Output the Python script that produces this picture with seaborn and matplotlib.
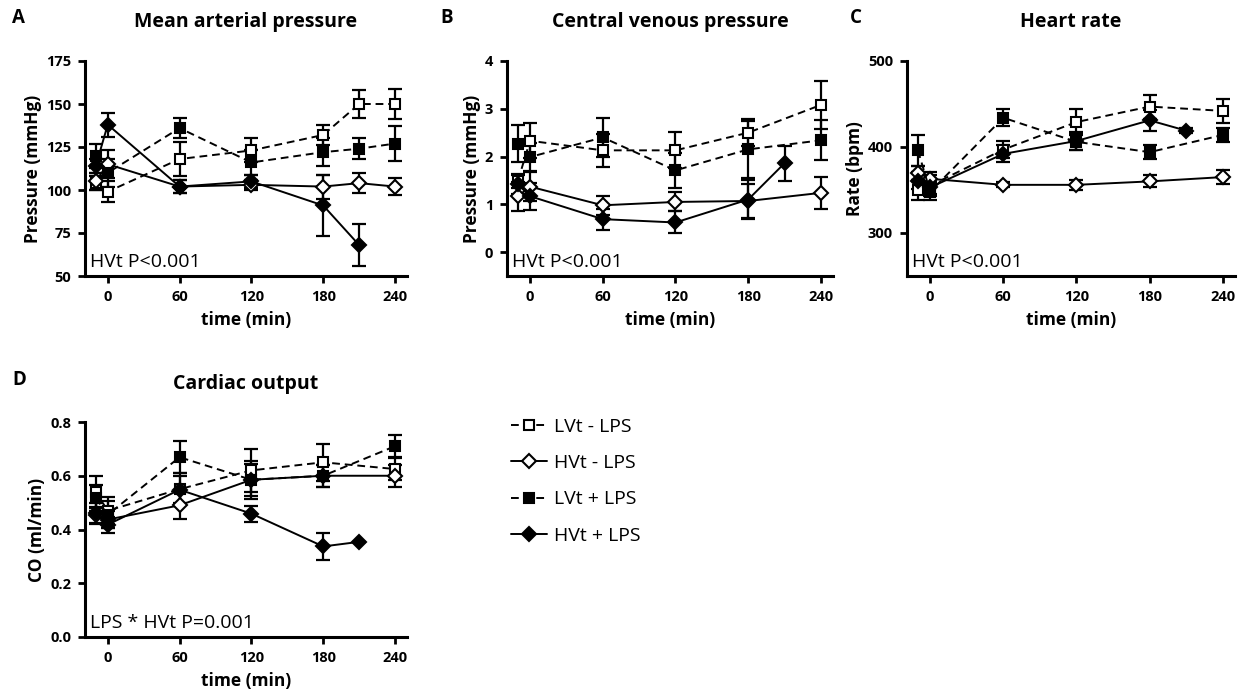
import matplotlib
matplotlib.use("Agg")
import matplotlib.pyplot as plt
import numpy as np
import pandas as pd
import seaborn as sns

TIME = [-10, 0, 60, 120, 180, 210, 240]
GROUPS = ["LVt - LPS", "HVt - LPS", "LVt + LPS", "HVt + LPS"]
nan = np.nan

# mean arterial pressure (mmHg), mean and SEM per group
map_mean = {
    "LVt - LPS": [104, 99, 118, 123, 132, 150, 150],
    "HVt - LPS": [105, 115, 102, 103, 102, 104, 102],
    "LVt + LPS": [120, 110, 136, 116, 122, 124, 127],
    "HVt + LPS": [114, 138, 102, 105, 91, 68, nan],
}
map_err = {
    "LVt - LPS": [4, 6, 10, 7, 6, 8, 9],
    "HVt - LPS": [5, 8, 4, 3, 7, 6, 5],
    "LVt + LPS": [7, 8, 6, 7, 8, 6, 10],
    "HVt + LPS": [4, 7, 4, 4, 18, 12, nan],
}

# central venous pressure (mmHg)
cvp_mean = {
    "LVt - LPS": [1.49, 2.33, 2.13, 2.13, 2.5, nan, 3.08],
    "HVt - LPS": [1.17, 1.37, 0.98, 1.05, 1.07, nan, 1.24],
    "LVt + LPS": [2.27, 1.99, 2.4, 1.71, 2.15, nan, 2.34],
    "HVt + LPS": [1.42, 1.17, 0.69, 0.62, 1.1, 1.86, nan],
}
cvp_err = {
    "LVt - LPS": [0.15, 0.37, 0.35, 0.38, 0.28, nan, 0.5],
    "HVt - LPS": [0.3, 0.3, 0.2, 0.2, 0.35, nan, 0.33],
    "LVt + LPS": [0.38, 0.3, 0.4, 0.37, 0.6, nan, 0.42],
    "HVt + LPS": [0.2, 0.28, 0.22, 0.23, 0.4, 0.37, nan],
}

# heart rate (bpm)
hr_mean = {
    "LVt - LPS": [350, 355, 397, 429, 447, nan, 442],
    "HVt - LPS": [370, 363, 356, 356, 360, nan, 365],
    "LVt + LPS": [396, 348, 434, 406, 394, nan, 414],
    "HVt + LPS": [361, 353, 392, 407, 431, 419, nan],
}
hr_err = {
    "LVt - LPS": [12, 12, 10, 15, 14, nan, 14],
    "HVt - LPS": [8, 8, 3, 6, 7, nan, 8],
    "LVt + LPS": [18, 10, 10, 10, 8, nan, 8],
    "HVt + LPS": [10, 8, 10, 10, 12, 3, nan],
}

# cardiac output (ml/min)
co_mean = {
    "LVt - LPS": [0.54, 0.47, 0.55, 0.62, 0.65, nan, 0.625],
    "HVt - LPS": [0.455, 0.437, 0.49, 0.585, 0.6, nan, 0.6],
    "LVt + LPS": [0.517, 0.455, 0.669, 0.585, 0.6, nan, 0.71],
    "HVt + LPS": [0.46, 0.418, 0.548, 0.459, 0.337, 0.354, nan],
}
co_err = {
    "LVt - LPS": [0.06, 0.05, 0.06, 0.08, 0.07, nan, 0.04],
    "HVt - LPS": [0.03, 0.03, 0.05, 0.06, 0.04, nan, 0.04],
    "LVt + LPS": [0.05, 0.05, 0.06, 0.07, 0.04, nan, 0.04],
    "HVt + LPS": [0.04, 0.03, 0.05, 0.03, 0.05, nan, nan],
}

STYLE = {
    "LVt - LPS": dict(marker="s", mfc="white", ls=(0, (4, 2.5)), ms=7.5),
    "HVt - LPS": dict(marker="D", mfc="white", ls="-", ms=7),
    "LVt + LPS": dict(marker="s", mfc="black", ls=(0, (4, 2.5)), ms=7.5),
    "HVt + LPS": dict(marker="D", mfc="black", ls="-", ms=7),
}

sns.set_theme(style="ticks")
plt.rcParams["font.family"] = ["Open Sans", "DejaVu Sans"]
plt.rcParams["text.color"] = "black"
plt.rcParams["axes.labelcolor"] = "black"
plt.rcParams["xtick.color"] = "black"
plt.rcParams["ytick.color"] = "black"

W, H = 1242, 696
fig = plt.figure(figsize=(W / 100, H / 100), dpi=100)


def px_axes(x0, y0, x1, y1):
    return fig.add_axes([x0 / W, 1 - y1 / H, (x1 - x0) / W, (y1 - y0) / H])


def draw_panel(ax, means, errs, ylim, yticks, yticklabels, ylabel, note):
    for g in GROUPS:
        df = pd.DataFrame({"time": TIME, "value": means[g], "err": errs[g]}).dropna(subset=["value"])
        st = STYLE[g]
        ax.errorbar(df["time"], df["value"], yerr=df["err"].fillna(0), fmt="none",
                    ecolor="black", elinewidth=1.6, capsize=5, capthick=1.6, zorder=2)
        sns.lineplot(data=df, x="time", y="value", ax=ax, color="black", linewidth=1.4,
                     linestyle=st["ls"], marker=st["marker"], markersize=st["ms"],
                     markerfacecolor=st["mfc"], markeredgecolor="black", markeredgewidth=1.5,
                     label=g, legend=False, zorder=3)
    ax.set_xlim(-19, 250)
    ax.set_ylim(*ylim)
    ax.set_xticks([0, 60, 120, 180, 240])
    ax.set_xticklabels(["0", "60", "120", "180", "240"], fontweight="bold", fontsize=10.5)
    ax.set_yticks(yticks)
    ax.set_yticklabels(yticklabels, fontweight="bold", fontsize=10.5)
    ax.set_xlabel("time (min)", fontweight="bold", fontsize=12.5, labelpad=5)
    ax.set_ylabel(ylabel, fontweight="bold", fontsize=12.5, labelpad=3)
    for s in ["top", "right"]:
        ax.spines[s].set_visible(False)
    for s in ["left", "bottom"]:
        ax.spines[s].set_linewidth(2.2)
        ax.spines[s].set_color("black")
    ax.tick_params(axis="both", direction="out", width=2, length=5, colors="black", pad=5)
    ax.text(0.015, 0.025, note, transform=ax.transAxes, fontsize=14, ha="left", va="bottom")


ax_a = px_axes(85, 61, 407, 276)
draw_panel(ax_a, map_mean, map_err, (50, 175), [50, 75, 100, 125, 150, 175],
           ["50", "75", "100", "125", "150", "175"], "Pressure (mmHg)", "HVt P<0.001")
ax_b = px_axes(507, 61, 833, 276)
draw_panel(ax_b, cvp_mean, cvp_err, (-0.5, 4), [0, 1, 2, 3, 4],
           ["0", "1", "2", "3", "4"], "Pressure (mmHg)", "HVt P<0.001")
ax_c = px_axes(907, 61, 1235, 276)
draw_panel(ax_c, hr_mean, hr_err, (250, 500), [300, 400, 500],
           ["300", "400", "500"], "Rate (bpm)", "HVt P<0.001")
ax_d = px_axes(85, 422, 407, 637)
draw_panel(ax_d, co_mean, co_err, (0, 0.8), [0, 0.2, 0.4, 0.6, 0.8],
           ["0.0", "0.2", "0.4", "0.6", "0.8"], "CO (ml/min)", "LPS * HVt P=0.001")

titles = [("A", "Mean arterial pressure", 12, 246, 22),
          ("B", "Central venous pressure", 440, 670, 22),
          ("C", "Heart rate", 850, 1071, 22),
          ("D", "Cardiac output", 12, 246, 384)]
for letter, title, lx, tx, ty in titles:
    fig.text(lx / W, 1 - (ty - 4) / H, letter, fontsize=13.5, fontweight="bold", ha="left", va="center")
    fig.text(tx / W, 1 - ty / H, title, fontsize=14, fontweight="bold", ha="center", va="center")

handles, labels = ax_d.get_legend_handles_labels()
fig.legend(handles, labels, loc="upper left", bbox_to_anchor=(493 / W, 1 - 400 / H),
           frameon=False, fontsize=14, handlelength=1.9, handletextpad=0.35, labelspacing=0.95)

fig.savefig("out.png", dpi=100)
